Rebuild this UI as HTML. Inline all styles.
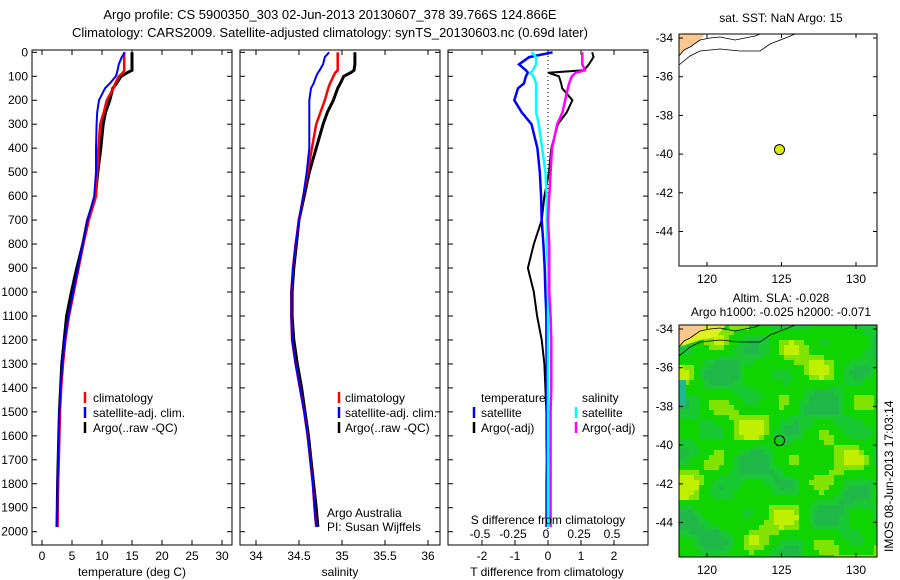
<!DOCTYPE html>
<html><head><meta charset="utf-8"><style>
body{margin:0;background:#fff;}
svg{display:block;font-family:"Liberation Sans",sans-serif;}
</style></head><body>
<svg id="c" width="900" height="580" xmlns="http://www.w3.org/2000/svg">
<text x="330" y="19" font-size="13" text-anchor="middle">Argo profile: CS 5900350_303 02-Jun-2013 20130607_378 39.766S 124.866E</text>
<text x="330" y="37" font-size="13" text-anchor="middle">Climatology: CARS2009. Satellite-adjusted climatology: synTS_20130603.nc (0.69d later)</text>
<g id="g"></g>
</svg>
<script>
// ---- data ----
const depths = [0,20,50,75,85,100,130,150,200,250,300,400,500,600,700,800,900,1000,1100,1200,1300,1400,1500,1600,1700,1800,1900,1980];
const tempArgo = [15,15,15,15,14.2,13.2,12.4,11.8,11.3,10.6,10.2,9.8,9.3,8.9,7.6,6.8,5.8,4.9,4.1,3.7,3.3,3.1,2.9,2.8,2.7,2.6,2.55,2.5];
const tempClim = [13.7,13.7,13.7,13.7,13.5,12.8,12.2,11.9,10.8,10.3,9.7,9.4,9.2,9.0,7.8,6.9,6.1,5.3,4.5,3.9,3.5,3.2,3.0,2.9,2.8,2.7,2.6,2.6];
const tempSat = [13.8,13.3,12.8,12.6,12.5,12.3,11.3,10.5,9.5,9.2,9.1,9.0,9.0,8.7,7.6,6.8,6.0,5.2,4.4,3.8,3.4,3.1,2.9,2.8,2.7,2.6,2.55,2.5];
const salArgo = [35.15,35.15,35.15,35.14,35.1,35.02,34.98,34.95,34.9,34.83,34.78,34.7,34.62,34.56,34.5,34.47,34.44,34.42,34.42,34.44,34.48,34.53,34.57,34.61,34.64,34.67,34.70,34.72];
const salClim = [34.95,34.95,34.95,34.95,34.92,34.9,34.86,34.84,34.8,34.75,34.7,34.65,34.6,34.55,34.5,34.46,34.43,34.41,34.41,34.42,34.46,34.51,34.56,34.6,34.63,34.66,34.68,34.7];
const salSat = [34.85,34.8,34.78,34.74,34.72,34.7,34.67,34.64,34.62,34.62,34.62,34.62,34.59,34.55,34.5,34.46,34.43,34.41,34.41,34.42,34.46,34.51,34.56,34.6,34.63,34.66,34.68,34.7];
const tDiffSat = [0.14,-0.57,-0.88,-0.67,-0.61,-0.67,-0.73,-0.91,-1.02,-0.8,-0.5,-0.32,-0.25,-0.21,-0.19,-0.14,-0.1,-0.08,-0.05,-0.05,-0.04,-0.04,-0.03,-0.03,-0.02,-0.02,-0.02,-0.02];
const tDiffArgo = [1.34,1.38,1.24,1.09,0,0.33,0.4,0.43,0.74,0.57,0.3,0.1,0.03,-0.11,-0.19,-0.43,-0.61,-0.43,-0.33,-0.19,-0.11,-0.08,-0.05,-0.05,-0.04,-0.05,-0.05,-0.05];
const sDiffSat = [-0.125,-0.09,-0.09,-0.115,-0.135,-0.11,-0.09,-0.09,-0.09,-0.09,-0.07,-0.045,-0.02,-0.01,-0.01,-0.01,0,0,0,0,0,0,0,0,0,0,0,0];
const sDiffArgo = [0.26,0.26,0.26,0.28,0.21,0.18,0.16,0.15,0.13,0.11,0.07,0.03,0.02,0.01,0,0.01,0.01,0.01,0.02,0.025,0.025,0.025,0.02,0.02,0.02,0.02,0.02,0.02];
const depthTicks = [0,100,200,300,400,500,600,700,800,900,1000,1100,1200,1300,1400,1500,1600,1700,1800,1900,2000];
const tempTicks = [0,5,10,15,20,25,30];
const salTicks = [34,34.5,35,35.5,36];
const tdTicks = [-2,-1,0,1,2];
const tdLabels = ["-2","-1","0","1","2"];
const sdTicks = [-0.5,-0.25,0,0.25,0.5];
const latTicks = [-34,-36,-38,-40,-42,-44];
const lonTicks = [120,125,130];
const floatLon = 124.866, floatLat = -39.766;

// ---- helpers ----
const NS="http://www.w3.org/2000/svg";
const G=document.getElementById('g');
function mk(t,a,p){const e=document.createElementNS(NS,t);for(const k in a)e.setAttribute(k,a[k]);(p||G).appendChild(e);return e;}
const yD = d => 52.3 + d*0.2397;
const xT = v => 42 + v*6;
const xS = v => 256 + (v-34)*86;
const xTD = v => 548 + v*33;
const xSD = v => 548 + v*132;

function frame(x0,x1,name){
  const r=mk('rect',{x:x0,y:50,width:x1-x0,height:495,fill:'none',stroke:'#000','stroke-width':1});
  
  
}
function line(xs,xf,color,w,name){
  const pts=depths.map((d,i)=>xf(xs[i]).toFixed(1)+','+yD(d).toFixed(1)).join(' ');
  const p=mk('polyline',{points:pts,fill:'none',stroke:color,'stroke-width':w,'stroke-linejoin':'miter'});
  
  
}
function txt(x,y,s,anchor,name,size){
  const t=mk('text',{x:x,y:y,'font-size':size||12,'text-anchor':anchor||'start'});
  t.textContent=s;
  
  
  return t;
}
function xTicks(vals,labels,xf,name){
  vals.forEach((v,i)=>{
    mk('line',{x1:xf(v),x2:xf(v),y1:545,y2:540,stroke:'#000'});
    mk('line',{x1:xf(v),x2:xf(v),y1:50,y2:55,stroke:'#000'});
    txt(xf(v),560,labels[i],'middle',name);
  });
}
function yTicks(x0,x1,labels){
  depthTicks.forEach(d=>{
    mk('line',{x1:x0,x2:x0+5,y1:yD(d),y2:yD(d),stroke:'#000'});
    mk('line',{x1:x1,x2:x1-5,y1:yD(d),y2:yD(d),stroke:'#000'});
    if(labels) txt(28,yD(d)+4,String(d),'end','depth-tick-label');
  });
}
function legendBar(x,y,color,name){
  const l=mk('line',{x1:x,x2:x,y1:y-9,y2:y+2,stroke:color,'stroke-width':2.5});
  
  
}

// ---- panel 1: temperature ----
frame(32,232,'temperature-panel');
yTicks(32,232,true);
xTicks(tempTicks,tempTicks.map(String),xT,'temperature-tick-label');
line(tempArgo,xT,'#000',3,'temperature-argo-line');
line(tempClim,xT,'#f00',2.5,'temperature-climatology-line');
line(tempSat,xT,'#00f',2,'temperature-satellite-line');
txt(132,576,'temperature (deg C)','middle','temperature-axis-title');
legendBar(85,401,'#f00','legend-climatology-marker');txt(93,402,'climatology','start','legend-climatology');
legendBar(85,416,'#00f','legend-satellite-marker');txt(93,417,'satellite-adj. clim.','start','legend-satellite');
legendBar(85,431,'#000','legend-argo-marker');txt(93,432,'Argo(..raw -QC)','start','legend-argo');

// ---- panel 2: salinity ----
frame(240,440,'salinity-panel');
yTicks(240,440,false);
xTicks(salTicks,salTicks.map(String),xS,'salinity-tick-label');
line(salArgo,xS,'#000',3,'salinity-argo-line');
line(salClim,xS,'#f00',2.5,'salinity-climatology-line');
line(salSat,xS,'#00f',2,'salinity-satellite-line');
txt(340,576,'salinity','middle','salinity-axis-title');
legendBar(339,401,'#f00','legend2-climatology-marker');txt(345,402,'climatology','start','legend2-climatology');
legendBar(339,416,'#00f','legend2-satellite-marker');txt(345,417,'satellite-adj. clim.','start','legend2-satellite');
legendBar(339,431,'#000','legend2-argo-marker');txt(345,432,'Argo(..raw -QC)','start','legend2-argo');
txt(327,517,'Argo Australia','start','argo-australia-label');
txt(327,531,'PI: Susan Wijffels','start','pi-label');

// ---- panel 3: differences ----
frame(448,648,'difference-panel');
yTicks(448,648,false);
xTicks(tdTicks,tdLabels,xTD,'t-diff-tick-label');
sdTicks.forEach(v=>{txt(xSD(v)-2,538,String(v),'middle','s-diff-tick-label');});
const zl=mk('line',{x1:548,x2:548,y1:52,y2:545,stroke:'#000','stroke-dasharray':'1,3'});

line(tDiffArgo,xTD,'#000',2,'t-diff-argo-line');
line(tDiffSat,xTD,'#00f',2.5,'t-diff-satellite-line');
line(sDiffSat,xSD,'#0ff',2.5,'s-diff-satellite-line');
line(sDiffArgo,xSD,'#f0f',2.5,'s-diff-argo-line');
txt(548,524,'S difference from climatology','middle','s-diff-axis-title');
txt(547,576,'T difference from climatology','middle','t-diff-axis-title');
txt(481,402,'temperature','start','legend3-temperature-header');
legendBar(474,416,'#00f','legend3-t-satellite-marker');txt(481,417,'satellite','start','legend3-t-satellite');
legendBar(474,431,'#000','legend3-t-argo-marker');txt(481,432,'Argo(-adj)','start','legend3-t-argo');
txt(582,402,'salinity','start','legend3-salinity-header');
legendBar(576,416,'#0ff','legend3-s-satellite-marker');txt(582,417,'satellite','start','legend3-s-satellite');
legendBar(576,431,'#f0f','legend3-s-argo-marker');txt(582,432,'Argo(-adj)','start','legend3-s-argo');

// ---- maps ----
const mX = lon => 707 + (lon-120)*14.9;
function map(top,name,heat){
  const yL = lat => top + 4 + (-34-lat)*19.35;
  const g=mk('g',{});
  
  
  if(heat){
    for(let y=top;y<top+232;y+=5){for(let x=679;x<877;x+=5){
      const v=Math.sin(x*0.09)*Math.cos(y*0.11)+Math.sin((x+y)*0.05)*0.6+Math.cos(x*0.031-y*0.07)*0.5;
      const c=v>1.2?'#c0f000':v>0.7?'#80e400':v>-0.3?'#10d400':v>-0.9?'#18c830':'#20b848';
      mk('rect',{x:x,y:y,width:Math.min(5,877-x),height:Math.min(5,top+232-y),fill:c},g);
    }}
    mk('rect',{x:679,y:top+55,width:7,height:25,fill:'#20b890'},g);
    mk('polygon',{points:`679,${top} 726,${top} 716,${top+12} 700,${top+15} 679,${top+22}`,fill:'#e0f020'},g);
  }
  mk('polygon',{points:`679,${top} 705,${top} 700,${top+6} 690,${top+13} 684,${top+16} 679,${top+22}`,fill:'#fcc890'},g);
  mk('polyline',{points:`679,${top+22} 684,${top+16} 690,${top+13} 700,${top+6} 710,${top+4} 720,${top+3} 735,${top+6} 745,${top+4} 755,${top+2} 760,${top}`,fill:'none',stroke:'#000','stroke-width':0.8},g);
  mk('polyline',{points:`679,${top+31} 690,${top+22} 700,${top+17} 720,${top+15} 740,${top+17} 760,${top+17} 770,${top+10} 788,${top+3} 795,${top}`,fill:'none',stroke:'#000','stroke-width':0.8},g);
  mk('rect',{x:679,y:top,width:198,height:232,fill:'none',stroke:'#000'},g);
  latTicks.forEach(l=>{mk('line',{x1:679,x2:683,y1:yL(l),y2:yL(l),stroke:'#000'},g);mk('line',{x1:877,x2:873,y1:yL(l),y2:yL(l),stroke:'#000'},g);
    txt(673,yL(l)+4,String(l),'end','latitude-tick-label',12);});
  lonTicks.forEach(l=>{mk('line',{x1:mX(l),x2:mX(l),y1:top,y2:top+4,stroke:'#000'},g);mk('line',{x1:mX(l),x2:mX(l),y1:top+232,y2:top+228,stroke:'#000'},g);
    txt(mX(l),top+249,String(l),'middle','longitude-tick-label',12);});
  const dot=mk('circle',{cx:mX(floatLon),cy:yL(floatLat),r:5,fill:heat?'none':'#d8f000',stroke:'#000','stroke-width':1},g);
  
  
}
map(34,'sst-map',false);
map(325,'sla-map',true);
txt(781,22,'sat. SST: NaN Argo: 15','middle','sst-map-title',12);
txt(781,302,'Altim. SLA: -0.028','middle','sla-map-title',12);
txt(781,316,'Argo h1000: -0.025 h2000: -0.071','middle','sla-map-subtitle',12);
const im=txt(0,0,'IMOS 08-Jun-2013 17:03:14','start','imos-timestamp',12);
im.setAttribute('transform','translate(893,552) rotate(-90)');
</script>
</body></html>
